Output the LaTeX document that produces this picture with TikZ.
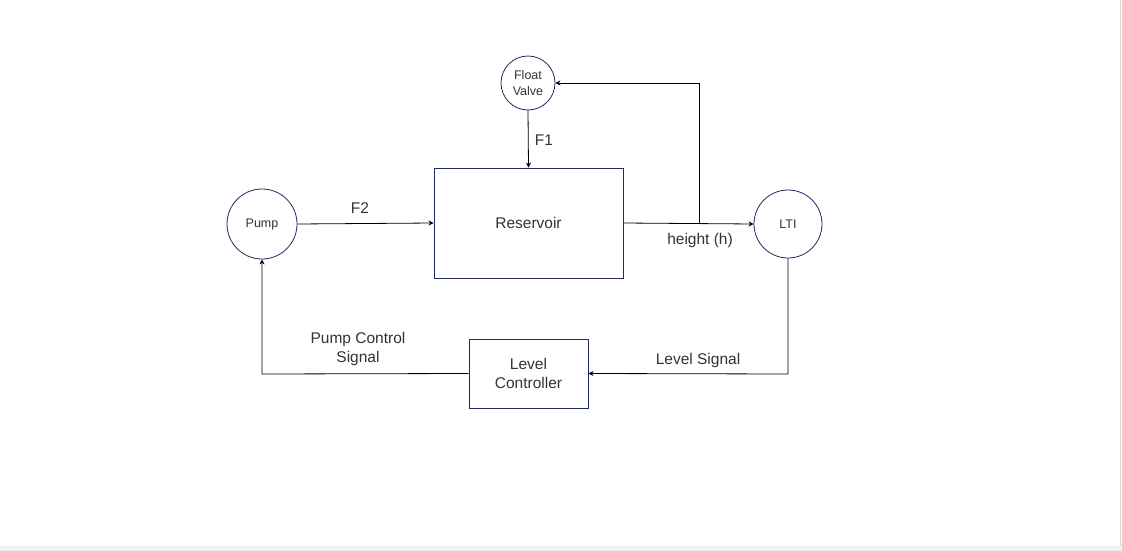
\documentclass[tikz,border=0pt]{standalone}
\usepackage{fontspec}
\setmainfont{Liberation Sans}
\usetikzlibrary{arrows.meta}
\definecolor{edgeblue}{HTML}{1F2A66}
\definecolor{txt}{HTML}{333333}
\definecolor{band}{HTML}{F0F0F5}
\definecolor{rim}{HTML}{D4D4D8}
\begin{document}
\begin{tikzpicture}[x=1pt,y=-1pt,
  circ/.style={circle,draw=edgeblue,line width=0.8pt,inner sep=0pt,text=txt,font=\fontsize{12.5}{15}\selectfont,align=center},
  blk/.style={rectangle,draw=edgeblue,line width=0.9pt,inner sep=0pt,text=txt,font=\fontsize{15.5}{19}\selectfont,align=center},
  conn/.style={line width=0.8pt,black,-{Stealth[length=5pt,width=5pt]}},
  lab/.style={text=txt,font=\fontsize{15.5}{19}\selectfont,align=center,inner sep=0pt}]
\useasboundingbox (0,0) rectangle (1122,551);
\fill[white] (0,0) rectangle (1122,551);
\fill[band] (0,546) rectangle (1122,551);
\draw[rim,line width=1pt] (1120,0) -- (1120,546);
% nodes
\node[circ,minimum size=54pt] (fv) at (528,83) {Float\\[1pt]Valve};
\node[blk,minimum width=189pt,minimum height=110pt] (res) at (528.5,223) {};
\node[lab] at (528.5,223) {Reservoir};
\node[circ,minimum size=70pt] (pump) at (262,224) {Pump};
\node[circ,minimum size=68pt] (lti) at (788,224) {LTI};
\node[blk,minimum width=119pt,minimum height=69pt] (lc) at (528.5,373.5) {Level\\Controller};
\coordinate (br) at (699,224);
\coordinate (brtop) at (699,83);
\coordinate (ltiD) at (788,374);
\coordinate (pumpD) at (262,374);
% connectors
\draw[conn] (pump.east) -- (res.west);
\draw[conn] (fv.south) -- (res.north);
\draw[conn] (res.east) -- (lti.west);
\draw[conn] (br) -- (brtop) -- (fv.east);
\draw[conn] (lti.south) -- (ltiD) -- (lc.east);
\draw[conn] (lc.west) -- (pumpD) -- (pump.south);
% labels
\node[lab] at (360,208) {F2};
\node[lab] at (544,140) {F1};
\node[lab] at (700,240) {height (h)};
\node[lab] at (698,360) {Level Signal};
\node[lab] at (358,349) {Pump Control\\Signal};
\end{tikzpicture}
\end{document}
